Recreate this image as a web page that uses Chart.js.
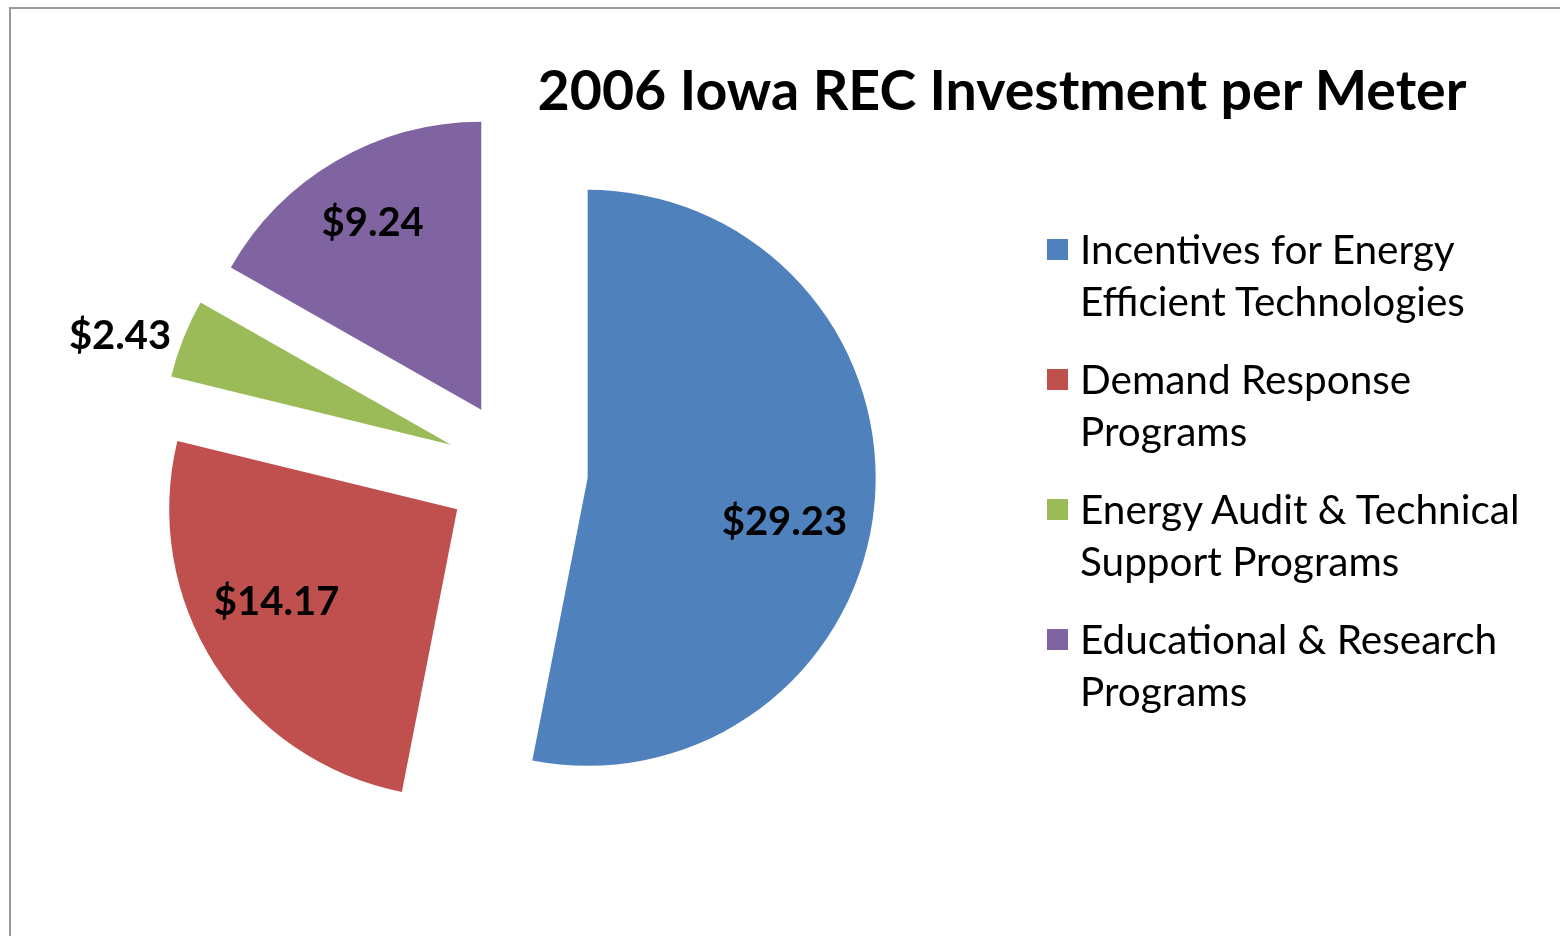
<!DOCTYPE html>
<html>
<head>
<meta charset="utf-8">
<script src="https://cdn.jsdelivr.net/npm/chart.js@4.4.1/dist/chart.umd.min.js"></script>
<style>
  html, body { margin: 0; padding: 0; background: #fff; }
  body { width: 1560px; height: 936px; position: relative; overflow: hidden; font-family: Lato, 'Open Sans', sans-serif; }
  #frame { position: absolute; left: 9px; top: 7px; width: 1600px; height: 1000px; border: 2px solid #979797; box-sizing: border-box; }
  #chart-wrap { position: absolute; left: 0; top: 0; width: 1560px; height: 936px; }
  #title { position: absolute; left: 1002px; top: 88px; transform: translate(-50%, -50%);
           font-weight: 700; font-size: 55.5px; white-space: nowrap; color: #000; }
  #legend { position: absolute; left: 1047px; top: 223px; }
  .leg-item { display: flex; align-items: flex-start; margin-bottom: 26px; }
  .leg-box { width: 21px; height: 21px; margin-top: 16px; margin-right: 12px; flex-shrink: 0; }
  .leg-text { font-size: 40.5px; line-height: 52px; color: #000; white-space: nowrap; }
</style>
</head>
<body>
<div id="frame"></div>
<div id="chart-wrap"><canvas id="pie"></canvas></div>
<div id="title">2006 Iowa REC Investment per Meter</div>
<div id="legend"></div>

<script>
// ── Data ──────────────────────────────────────────────────────────────────────
const CATEGORIES = [
  ['Incentives for Energy', 'Efficient Technologies'],
  ['Demand Response', 'Programs'],
  ['Energy Audit & Technical', 'Support Programs'],
  ['Educational & Research', 'Programs'],
];
const VALUES = [29.23, 14.17, 2.43, 9.24];

// ── Style ─────────────────────────────────────────────────────────────────────
const COLORS  = ['#4F81BD', '#C0504D', '#9BBB59', '#8064A2'];
const EXPLODE = 71;                           // px each slice is pulled out
const LABEL_RADIUS = [0.70, 0.705, 1.21, 0.75]; // fraction of radius
const LABEL_NUDGE  = [7, 5.4, -3.4, 0];          // degrees, clockwise

// Legend pills (HTML)
document.getElementById('legend').innerHTML = CATEGORIES.map((lines, i) => `
  <div class="leg-item">
    <span class="leg-box" style="background:${COLORS[i]}"></span>
    <span class="leg-text">${lines.map(l => l.replace('&', '&amp;')).join('<br>')}</span>
  </div>`).join('');

// Draw each slice shifted outwards along its mid angle
const explodePlugin = {
  id: 'explode',
  beforeDatasetDraw(chart, args) {
    const ctx = chart.ctx;
    args.meta.data.forEach(arc => {
      const mid = (arc.startAngle + arc.endAngle) / 2;
      ctx.save();
      ctx.translate(Math.cos(mid) * EXPLODE, Math.sin(mid) * EXPLODE);
      arc.draw(ctx);
      ctx.restore();
    });
    return false;
  },
};

// Value labels ($xx.xx)
const valueLabels = {
  id: 'valueLabels',
  afterDatasetsDraw(chart) {
    const ctx = chart.ctx;
    const meta = chart.getDatasetMeta(0);
    ctx.save();
    ctx.font = 'bold 40px Lato, sans-serif';
    ctx.fillStyle = '#000';
    ctx.textAlign = 'center';
    ctx.textBaseline = 'middle';
    meta.data.forEach((arc, i) => {
      const mid = (arc.startAngle + arc.endAngle) / 2;
      const cx = arc.x + Math.cos(mid) * EXPLODE;
      const cy = arc.y + Math.sin(mid) * EXPLODE;
      const a = mid + LABEL_NUDGE[i] * Math.PI / 180;
      const r = arc.outerRadius * LABEL_RADIUS[i];
      ctx.fillText('$' + VALUES[i].toFixed(2), cx + Math.cos(a) * r, cy + Math.sin(a) * r);
    });
    ctx.restore();
  },
};

new Chart(document.getElementById('pie').getContext('2d'), {
  type: 'pie',
  data: {
    labels: CATEGORIES.map(l => l.join(' ')),
    datasets: [{
      data: VALUES,
      backgroundColor: COLORS,
      borderWidth: 0,
    }],
  },
  options: {
    responsive: true,
    maintainAspectRatio: false,
    animation: false,
    events: [],
    radius: 288,
    layout: { padding: { left: 0, right: 526, top: 6, bottom: 0 } },
    plugins: {
      legend:  { display: false },
      tooltip: { enabled: false },
    },
  },
  plugins: [explodePlugin, valueLabels],
});
</script>
</body>
</html>
